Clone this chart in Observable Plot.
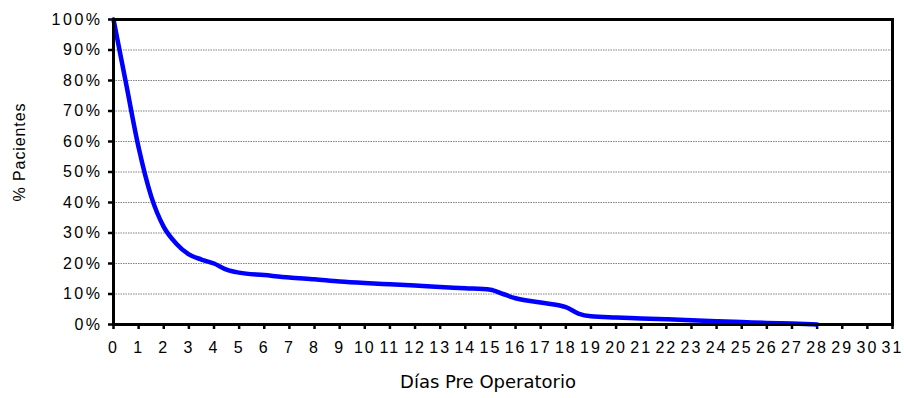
<!DOCTYPE html>
<html>
<head>
<meta charset="utf-8">
<script src="https://cdn.jsdelivr.net/npm/d3@7"></script>
<script src="https://cdn.jsdelivr.net/npm/@observablehq/plot@0.6"></script>
<style>
  html, body { margin: 0; padding: 0; background: #fff; }
  #chart svg { display: block; }
  #chart svg g[aria-label="x-axis tick label"] text { letter-spacing: 2px; }
  #chart svg g[aria-label="y-axis tick label"] text { letter-spacing: 2.5px; }
  #chart svg g.ytitle text { letter-spacing: 0.9px; }
</style>
</head>
<body>
<div id="chart"></div>
<script>
// Days (x) and share of patients (y)
const days = [0, 0.5, 1, 1.5, 2, 2.5, 3, 3.5, 4, 4.5, 5, 6, 7, 8, 9, 10, 11, 12, 13, 14, 15, 15.5, 16, 17, 18, 18.5, 19, 20, 21, 22, 23, 24, 25, 26, 27, 28];
const pacientes = [1.00, 0.79, 0.58, 0.42, 0.32, 0.265, 0.23, 0.213, 0.20, 0.18, 0.17, 0.162, 0.154, 0.148, 0.141, 0.136, 0.132, 0.128, 0.123, 0.119, 0.114, 0.10, 0.086, 0.072, 0.057, 0.036, 0.027, 0.023, 0.020, 0.017, 0.014, 0.011, 0.008, 0.005, 0.003, 0.0];
const xTicks = d3.range(0, 32);
const yTicks = [0, 0.1, 0.2, 0.3, 0.4, 0.5, 0.6, 0.7, 0.8, 0.9, 1.0];
const gridLines = [0.1, 0.2, 0.3, 0.4, 0.5, 0.6, 0.7, 0.8, 0.9];
const xTitle = "Días Pre Operatorio";
const yTitle = "% Pacientes";

const data = days.map((d, i) => ({dia: d, pct: pacientes[i]}));
const sans = "'Liberation Sans', Arial, sans-serif";

const chart = Plot.plot({
  width: 904,
  height: 398,
  marginLeft: 113,
  marginRight: 12,
  marginTop: 19,
  marginBottom: 74,
  style: {fontFamily: sans, fontSize: "16px", background: "#fff", color: "#000"},
  x: {domain: [0, 31]},
  y: {domain: [0, 1]},
  marks: [
    Plot.ruleY(gridLines, {stroke: "#808080", strokeWidth: 1, strokeDasharray: "1.5,1"}),
    Plot.axisX({ticks: xTicks, tickFormat: d => String(d), tickSize: 5, tickPadding: 12.5, strokeWidth: 2.5, fontSize: 16, fontFamily: sans, label: null}),
    Plot.axisY({ticks: yTicks, tickFormat: d3.format(".0%"), tickSize: 5, tickPadding: 6, strokeWidth: 2.5, fontSize: 16, fontFamily: sans, label: null}),
    Plot.line(data, {x: "dia", y: "pct", curve: "monotone-x", stroke: "#0000ff", strokeWidth: 4.5}),
    Plot.frame({stroke: "#000", strokeWidth: 3}),
    Plot.text([xTitle], {frameAnchor: "bottom", textAnchor: "middle", dx: -15, dy: 63, fontFamily: "'DejaVu Sans', Verdana, sans-serif", fontSize: 18, fill: "#000"}),
    Plot.text([yTitle], {frameAnchor: "left", textAnchor: "middle", rotate: -90, dx: -93.5, dy: -20, fontFamily: sans, fontSize: 16, fill: "#000", className: "ytitle"})
  ]
});
document.getElementById("chart").appendChild(chart);
</script>
</body>
</html>
